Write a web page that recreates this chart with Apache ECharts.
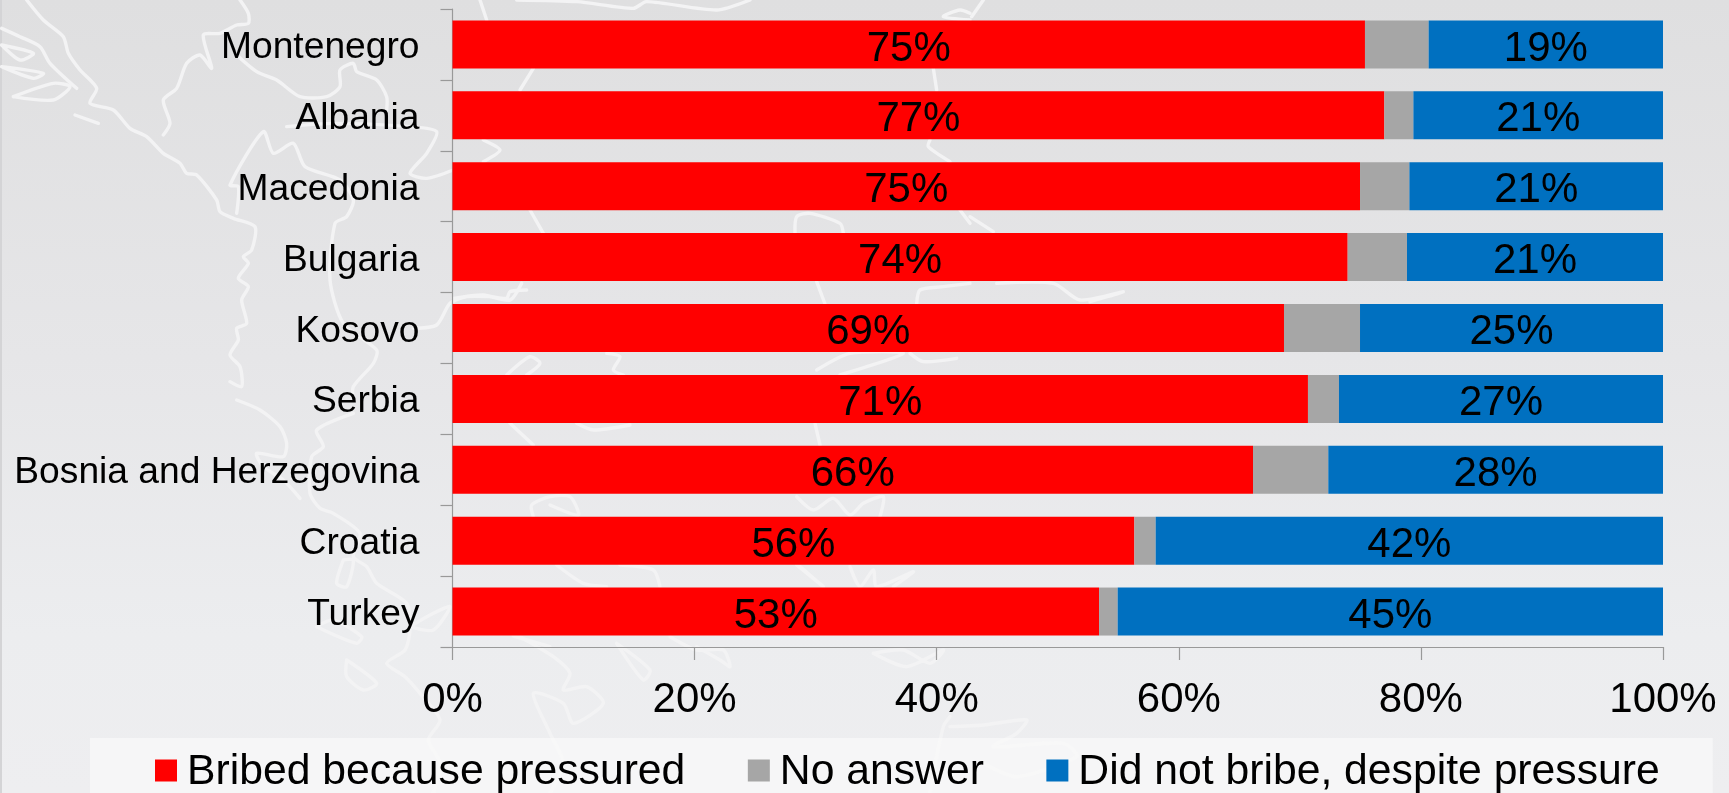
<!DOCTYPE html>
<html><head><meta charset="utf-8">
<script src="https://cdn.jsdelivr.net/npm/echarts@6/dist/echarts.min.js"></script>
<style>html,body{margin:0;padding:0;width:1729px;height:793px;overflow:hidden;background:linear-gradient(180deg,#dfdfe0 0%,#e6e6e8 45%,#ecedef 80%,#eeeef0 100%)}
#edge{position:absolute;left:0;top:0;width:2px;height:793px;background:#d4d4d6}
#c{position:absolute;left:0;top:0;width:1729px;height:793px}</style></head>
<body><div id="edge"></div><div id="c"></div>
<script>
const categories = ['Montenegro','Albania','Macedonia','Bulgaria','Kosovo','Serbia','Bosnia and Herzegovina','Croatia','Turkey'];
const bribed = [75.38,76.98,74.97,73.95,68.69,70.67,66.13,56.33,53.41];
const noAnswer = [5.26,2.40,4.08,4.90,6.28,2.56,6.22,1.76,1.54];
const didNotBribe = [19.36,20.62,20.95,21.15,25.03,26.77,27.65,41.91,45.05];
const xTicks = {min:0,max:100,interval:20};
// decorative white map outline behind the chart (page pixels, traced on 3x crops)
const mapA=[[0,0,[[80,0],[130,60],[190,110],[205,160],[240,210],[290,265],[270,310],[340,330],[390,385],[440,410],[490,460],[540,490],[560,520],[590,525],[650,600],[660,635],[700,655],[765,680],[755,750],[730,770],[745,790],[715,835],[745,860],[725,900],[740,970],[710,985],[715,1020],[690,1065],[720,1100],[725,1160],[690,1145]]],
[0,0,[[490,405],[510,370],[490,300],[530,265],[560,190],[600,165],[635,205],[610,105],[660,100],[710,75],[745,70],[745,40],[720,0]]],
[0,0,[[710,165],[770,215],[830,240],[900,290],[980,290],[1020,260],[1020,210],[1060,190],[1070,215],[1130,240],[1160,290],[1160,330]]],
[0,0,[[860,380],[1000,370],[1230,380],[1310,395],[1280,460],[1230,520],[1280,535],[1360,510]]],
[0,0,[[710,640],[715,560],[690,555],[790,395],[820,460],[880,430],[915,500],[1020,540],[1060,600],[1040,650],[1005,670],[990,840],[1030,970],[1130,1050],[1120,1090],[1060,1160],[1060,1200]]],
[0,0,[[1240,985],[1310,975],[1350,910],[1400,890],[1470,890],[1520,895],[1530,875],[1580,870]]],
[0,0,[[40,290],[160,250],[210,260],[160,300],[40,290]]],
[0,0,[[5,85],[60,110],[120,140],[150,190],[230,265]]],
[0,0,[[5,135],[100,160],[60,180],[5,135]]],
[0,0,[[5,200],[130,220],[100,235],[5,200]]],
[0,0,[[225,345],[295,370]]],
[0,400,[[710,0],[780,30],[840,80],[860,130],[850,170],[770,160],[790,200],[850,240],[900,295]]],
[0,400,[[1060,40],[950,90],[970,140],[935,170],[930,280],[960,325],[1000,340],[1080,400],[1060,470],[1100,500],[1130,550],[1220,610],[1230,690],[1215,750],[1160,790],[1215,830],[1260,880],[1320,960],[1285,1020],[1320,1090],[1300,1179]]],
[0,400,[[1030,480],[1060,480],[1040,560],[1010,550],[1030,480]]],
[0,400,[[1040,780],[1130,850],[1090,870],[1040,830],[1040,780]]],
[0,400,[[950,680],[1000,660],[1085,710],[1070,730],[950,680]]],
[0,400,[[1230,680],[1300,640],[1350,620],[1300,690],[1230,680]]]];
const mapB=[[430,630,[[270,20],[370,80],[420,130],[400,180],[470,170],[520,220],[430,280],[400,220],[310,190],[360,310],[400,400],[360,489]]],
[430,630,[[560,40],[660,120],[640,150],[560,40]]],
[430,630,[[720,20],[800,60],[880,60],[900,110],[870,90],[800,50]]],
[430,630,[[1330,70],[1420,60],[1500,100],[1540,60],[1430,110],[1330,70]]],
[430,630,[[1500,489],[1540,290],[1560,260]]],
[950,630,[[0,290],[100,285],[230,270],[200,310],[130,350],[340,340],[380,380],[200,440],[100,400]]],
[450,0,[[90,0],[110,60]]],
[450,0,[[200,0],[380,5],[550,25],[590,5],[800,30],[900,0]]],
[450,0,[[250,205],[210,270]]],
[450,0,[[100,420],[150,450],[100,485]]],
[450,0,[[240,630],[280,700]]],
[450,0,[[1035,700],[1040,650],[1080,640],[1170,670],[1180,700]]],
[450,0,[[1450,205],[1460,270]]],
[450,0,[[1560,60],[1480,50],[1530,30],[1560,40]]],
[450,0,[[1440,420],[1435,440],[1500,485]]],
[450,0,[[1530,630],[1560,670]]],
[450,0,[[1100,845],[1125,912]]],
[450,0,[[10,895],[100,885],[180,900],[215,850]]],
[450,0,[[1400,912],[1410,870],[1480,860],[1560,850]]],
[450,0,[[170,1125],[240,1070],[270,1090],[230,1125]]],
[450,0,[[470,1060],[510,1070],[490,1110],[520,1125]]],
[450,0,[[1100,1110],[1200,1060],[1360,1060],[1170,1125]]],
[450,0,[[1380,1060],[1420,1085],[1520,1075]]],
[970,0,[[40,0],[5,50]]],
[970,0,[[0,650],[70,695]]],
[970,0,[[80,850],[250,850],[330,900],[460,875],[360,905]]],
[450,390,[[180,100],[250,165]]],
[450,390,[[380,100],[430,120],[540,105]]],
[450,390,[[1095,100],[1110,165]]],
[450,390,[[250,380],[245,345],[300,320],[360,320],[385,375],[300,345]]],
[450,390,[[1040,320],[1090,360],[1150,325],[1200,375],[1240,340],[1300,320],[1290,380]]],
[450,390,[[320,525],[400,580],[470,590]]],
[450,390,[[510,525],[610,540],[630,590]]],
[450,390,[[1040,525],[1120,590],[1050,530]]],
[450,390,[[1200,530],[1230,590],[1270,540],[1280,590],[1390,545],[1330,590]]],
[450,390,[[190,738],[300,770]]]];
const graphic=mapA.concat(mapB).map(([ox,oy,p])=>({type:'polyline',silent:true,z:-1,
  shape:{points:p.map(([x,y])=>[ox+x/3,oy+y/3]),smooth:0.25},
  style:{stroke:'#f3f3f4',lineWidth:3.4,fill:null,lineJoin:'round',lineCap:'round'}}));
const FONT='"Liberation Sans",Arial,sans-serif';
const lab=p=>Math.round(p.value)+'%';
const dataLabel={show:true,position:'inside',formatter:lab,color:'#000',fontFamily:FONT,fontSize:42,offset:[0,4.5]};
const chart=echarts.init(document.getElementById('c'),null,{renderer:'canvas'});
chart.setOption({
  animation:false,backgroundColor:'transparent',graphic,
  grid:{left:452.5,right:66,top:9,bottom:146,containLabel:false},
  legend:{left:90,top:738,padding:[11,53,8,65],backgroundColor:'rgba(250,250,250,0.72)',itemWidth:22,itemHeight:26,itemGap:62.5,
    icon:'path://M0,0H22V22H0Z M0,26H22V26H0Z',
    textStyle:{fontFamily:FONT,fontSize:42.7,color:'#000',padding:[0,0,0,5],lineHeight:47},
    data:['Bribed because pressured','No answer','Did not bribe, despite pressure']},
  xAxis:{type:'value',min:xTicks.min,max:xTicks.max,interval:xTicks.interval,splitLine:{show:false},
    axisLine:{show:true,lineStyle:{color:'#999',width:1.2}},axisTick:{show:true,length:13,lineStyle:{color:'#999',width:1.2}},
    axisLabel:{formatter:'{value}%',color:'#000',fontFamily:FONT,fontSize:42,margin:32,hideOverlap:false}},
  yAxis:{type:'category',inverse:true,data:categories,
    axisLine:{show:true,lineStyle:{color:'#999',width:1.2}},axisTick:{show:true,length:12,lineStyle:{color:'#999',width:1.2}},
    axisLabel:{color:'#000',fontFamily:FONT,fontSize:37.2,margin:33,interval:0,verticalAlign:'top',lineHeight:6.6}},
  series:[
    {name:'Bribed because pressured',type:'bar',stack:'t',barWidth:48,data:bribed,itemStyle:{color:'#ff0000'},label:dataLabel},
    {name:'No answer',type:'bar',stack:'t',barWidth:48,data:noAnswer,itemStyle:{color:'#a6a6a6'}},
    {name:'Did not bribe, despite pressure',type:'bar',stack:'t',barWidth:48,data:didNotBribe,itemStyle:{color:'#0070c0'},label:dataLabel}
  ]
});
</script></body></html>
